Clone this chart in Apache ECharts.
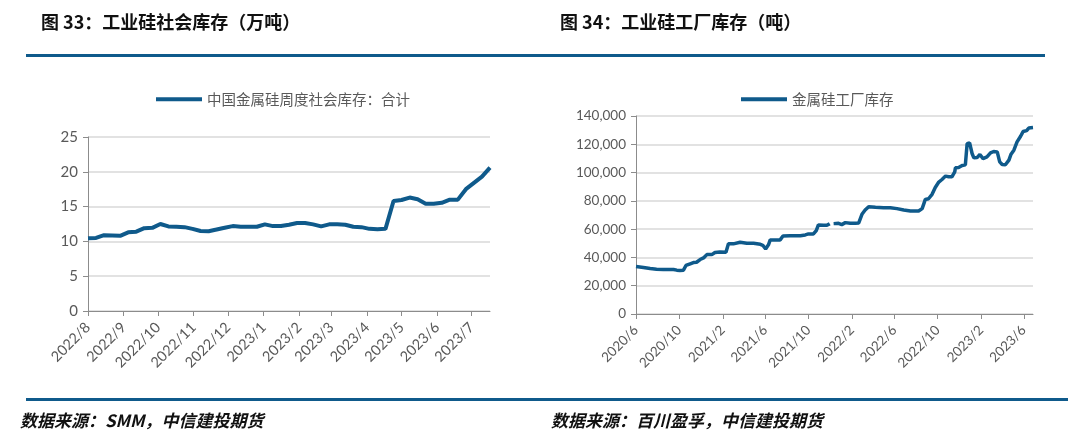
<!DOCTYPE html>
<html>
<head>
<meta charset="utf-8">
<script src="https://cdn.jsdelivr.net/npm/echarts@6/dist/echarts.min.js"></script>
<style>
html,body{margin:0;padding:0;background:#fff;}
#main{width:1080px;height:439px;}
</style>
</head>
<body>
<div id="main"></div>
<script>
// 图33 工业硅社会库存（万吨），周度
var socDates = ['2022-08-05','2022-08-12','2022-08-19','2022-08-26','2022-09-02','2022-09-09','2022-09-16','2022-09-23','2022-09-30',
  '2022-10-07','2022-10-14','2022-10-21','2022-10-28','2022-11-04','2022-11-11','2022-11-18','2022-11-25','2022-12-02','2022-12-09',
  '2022-12-16','2022-12-23','2022-12-30','2023-01-06','2023-01-13','2023-01-20','2023-01-27','2023-02-03','2023-02-10','2023-02-17',
  '2023-02-24','2023-03-03','2023-03-10','2023-03-17','2023-03-24','2023-03-31','2023-04-07','2023-04-14','2023-04-21','2023-04-28',
  '2023-05-05','2023-05-12','2023-05-19','2023-05-26','2023-06-02','2023-06-09','2023-06-16','2023-06-23','2023-06-30','2023-07-07',
  '2023-07-14','2023-07-21'];
var socValues = [10.45,10.5,10.9,10.85,10.8,11.3,11.4,11.9,11.95,12.5,
  12.15,12.1,12.05,11.8,11.5,11.45,11.7,11.95,12.2,12.1,
  12.1,12.1,12.45,12.2,12.2,12.4,12.65,12.65,12.45,12.15,
  12.45,12.45,12.4,12.1,12.05,11.8,11.75,11.8,15.8,15.95,
  16.3,16.05,15.4,15.4,15.55,16.0,16.0,17.5,18.4,19.3,20.6];
var socTicks = ['2022-08-05','2022-09-05','2022-10-05','2022-11-05','2022-12-05','2023-01-05',
  '2023-02-05','2023-03-05','2023-04-05','2023-05-05','2023-06-05','2023-07-05'];

// 图34 工业硅工厂库存（吨）
var facDates = ['2020-06-01','2020-06-22','2020-07-11','2020-07-29','2020-08-17','2020-09-15','2020-09-24','2020-10-03','2020-10-13',
  '2020-10-20','2020-11-01','2020-11-10','2020-11-19','2020-11-29','2020-12-10','2020-12-18','2021-01-01','2021-01-10','2021-01-24',
  '2021-02-10','2021-02-17','2021-03-03','2021-03-22','2021-04-10','2021-04-29','2021-05-18','2021-05-25','2021-06-02','2021-06-10',
  '2021-06-15','2021-07-04','2021-07-13','2021-07-21','2021-08-10','2021-09-08','2021-09-22','2021-10-01','2021-10-15','2021-10-23',
  '2021-10-29','2021-11-13','2021-11-22','2021-11-30','2021-12-05','2021-12-11','2021-12-25','2022-01-03','2022-01-13','2022-01-27',
  '2022-02-10','2022-02-20','2022-03-01','2022-03-10','2022-03-20','2022-04-08','2022-05-01','2022-05-20','2022-06-08','2022-06-27',
  '2022-07-16','2022-08-08','2022-08-18','2022-08-27','2022-09-05','2022-09-15','2022-09-24','2022-10-04','2022-10-13','2022-10-23',
  '2022-11-01','2022-11-10','2022-11-18','2022-11-20','2022-11-29','2022-12-09','2022-12-18','2022-12-23','2022-12-30','2023-01-06',
  '2023-01-11','2023-01-20','2023-01-28','2023-02-06','2023-02-17','2023-02-27','2023-03-08','2023-03-18','2023-03-25','2023-04-01',
  '2023-04-10','2023-04-20','2023-04-26','2023-05-04','2023-05-13','2023-05-23','2023-05-30','2023-06-09','2023-06-15','2023-06-27'];
var facValues = [33600,32900,32200,31700,31500,31500,31000,30800,31000,
  34300,35500,36400,36600,38500,39900,42000,42000,43500,43900,
  43700,49600,49600,50700,50000,50000,49300,48600,46000,48900,
  52400,52400,52400,55200,55400,55400,55900,56600,56600,59000,
  63000,62700,62700,63900,null,63900,64100,63200,64600,64100,
  64100,64400,70500,73500,75900,75400,75200,75200,74500,73500,
  72800,72800,74500,81000,81500,84600,89500,93300,95100,97500,
  97000,97000,100500,103400,103600,105000,105500,120500,121000,113500,
  110400,110600,112800,109900,111100,113900,114900,114600,107600,105700,
  105500,108800,113000,115800,121700,125700,129000,129700,131500,131800];
var facTicks = ['2020-06-01','2020-10-01','2021-02-01','2021-06-01','2021-10-01',
  '2022-02-01','2022-06-01','2022-10-01','2023-02-01','2023-06-01'];

var socName = '中国金属硅周度社会库存：合计';
var facName = '金属硅工厂库存';

var blue = '#0f5a8b';
var gray = '#595959';
var cjk = '"Noto Sans CJK SC", sans-serif';

// 日期转为本地时间戳，x 轴用数值轴承载
function ts(s){ var p = s.split('-'); return new Date(+p[0], +p[1] - 1, +p[2]).getTime(); }
function ym(v){ var d = new Date(v); return d.getFullYear() + '/' + (d.getMonth() + 1); }
function zip(a, b){ return a.map(function(d, i){ return [ts(d), b[i]]; }); }

var chart = echarts.init(document.getElementById('main'));

function xAxisOf(idx, dates, ticks, size){
  return {
    type: 'value', gridIndex: idx, scale: true,
    min: ts(dates[0]), max: ts(dates[dates.length - 1]),
    axisLine: {show: true, onZero: false, lineStyle: {color: '#8c8c8c', width: 1}},
    axisTick: {show: true, length: 5, lineStyle: {color: '#8c8c8c'}, customValues: ticks.map(ts)},
    splitLine: {show: false},
    axisLabel: {rotate: 45, color: gray, fontFamily: 'Lato', fontSize: size, margin: 14,
      customValues: ticks.map(ts), formatter: ym}
  };
}

var option = {
  backgroundColor: '#fff',
  animation: false,
  title: [
    {text: '图 33：工业硅社会库存（万吨）', left: 36, top: 8,
      textStyle: {fontSize: 18, fontWeight: 'bold', color: '#111', fontFamily: cjk}},
    {text: '图 34：工业硅工厂库存（吨）', left: 555, top: 8,
      textStyle: {fontSize: 18, fontWeight: 'bold', color: '#111', fontFamily: cjk}},
    {text: '数据来源：SMM，中信建投期货', left: 15, top: 407,
      textStyle: {fontSize: 17, fontWeight: 'bold', fontStyle: 'italic', color: '#111', fontFamily: cjk}},
    {text: '数据来源：百川盈孚，中信建投期货', left: 546, top: 407,
      textStyle: {fontSize: 17, fontWeight: 'bold', fontStyle: 'italic', color: '#111', fontFamily: cjk}}
  ],
  graphic: [
    {type: 'rect', shape: {x: 26, y: 54, width: 1019, height: 3}, style: {fill: blue}},
    {type: 'rect', shape: {x: 26, y: 398, width: 1042, height: 3}, style: {fill: blue}}
  ],
  legend: [
    {data: [socName], left: 151, top: 87, icon: 'rect', itemWidth: 46, itemHeight: 4,
      textStyle: {color: gray, fontSize: 14.5, fontFamily: cjk}},
    {data: [facName], left: 736, top: 87, icon: 'rect', itemWidth: 46, itemHeight: 4,
      textStyle: {color: gray, fontSize: 14.5, fontFamily: cjk}}
  ],
  grid: [
    {left: 88, right: 590, top: 137, bottom: 128},
    {left: 636, right: 47, top: 116, bottom: 125}
  ],
  xAxis: [
    xAxisOf(0, socDates, socTicks, 14.5),
    xAxisOf(1, facDates, facTicks, 13.5)
  ],
  yAxis: [
    {type: 'value', gridIndex: 0, min: 0, max: 25, interval: 5,
      axisLine: {show: true, lineStyle: {color: '#8c8c8c'}},
      axisTick: {show: true, length: 5, lineStyle: {color: '#8c8c8c'}},
      splitLine: {lineStyle: {color: '#d9d9d9', width: 1.5}},
      axisLabel: {color: gray, fontSize: 15, fontFamily: 'Lato', margin: 10}},
    {type: 'value', gridIndex: 1, min: 0, max: 140000, interval: 20000,
      axisLine: {show: true, lineStyle: {color: '#8c8c8c'}},
      axisTick: {show: true, length: 5, lineStyle: {color: '#8c8c8c'}},
      splitLine: {lineStyle: {color: '#d9d9d9', width: 1.5}},
      axisLabel: {color: gray, fontSize: 13.5, fontFamily: 'Lato', margin: 10,
        formatter: function(v){ return v.toLocaleString('en-US'); }}}
  ],
  series: [
    {name: socName, type: 'line', xAxisIndex: 0, yAxisIndex: 0, showSymbol: false,
      lineStyle: {color: blue, width: 4}, itemStyle: {color: blue},
      data: zip(socDates, socValues)},
    {name: facName, type: 'line', xAxisIndex: 1, yAxisIndex: 1, showSymbol: false, connectNulls: false,
      lineStyle: {color: blue, width: 3.5}, itemStyle: {color: blue},
      data: zip(facDates, facValues)}
  ]
};

chart.setOption(option);
</script>
</body>
</html>
